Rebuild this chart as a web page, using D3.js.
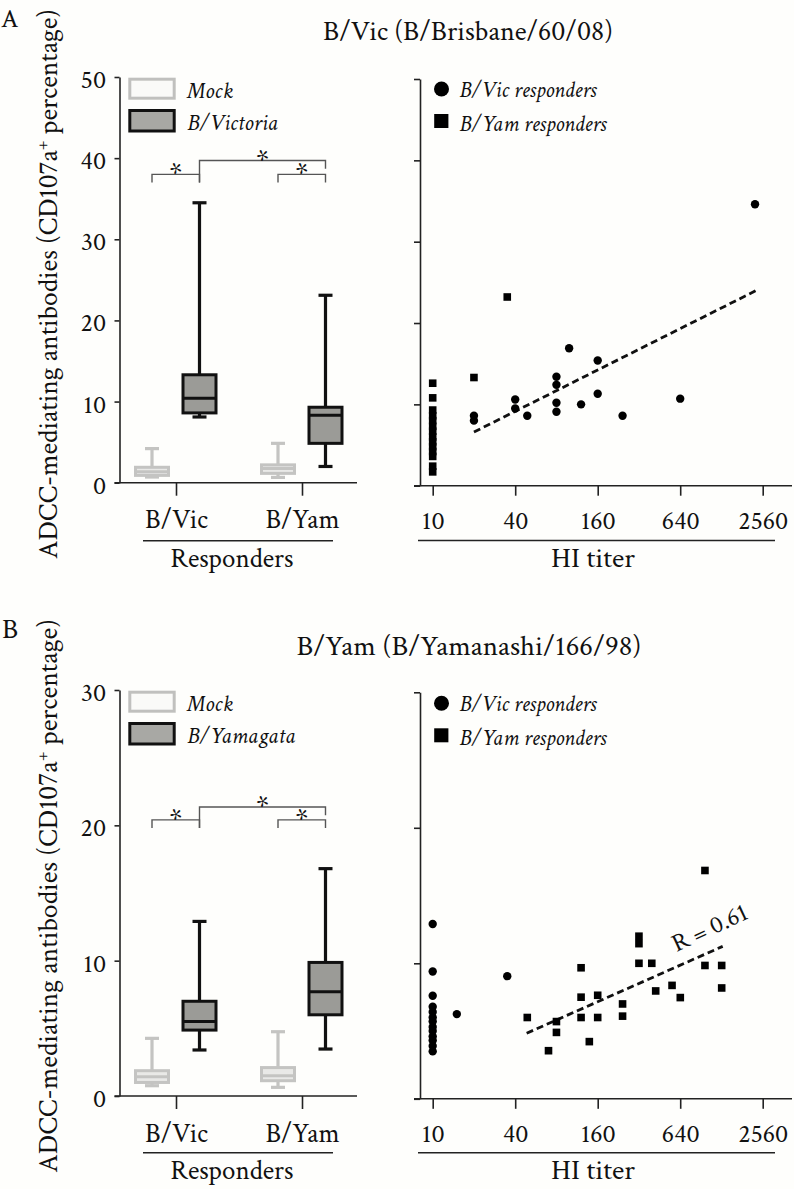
<!DOCTYPE html>
<html>
<head>
<meta charset="utf-8">
<script src="https://cdn.jsdelivr.net/npm/d3@7/dist/d3.min.js"></script>
<style>
  html, body { margin:0; padding:0; background:#fefefc; }
  svg { display:block; background:#fefefc; }
  text { font-family: "Crimson Text", "EB Garamond", "Liberation Serif", serif; fill:#111; }
</style>
</head>
<body>
<svg id="chart" width="794" height="1189"></svg>
<script>
// ---------------- data ----------------
const groups = ["B/Vic", "B/Yam"];
const stimA = ["Mock", "B/Victoria"];
const stimB = ["Mock", "B/Yamagata"];
const scatterSeries = ["B/Vic responders", "B/Yam responders"];

// box statistics per responder group: [min, q1, median, q3, max]
const aMockStats  = [[0.7, 0.9, 1.35, 1.9, 4.2], [0.65, 1.15, 1.75, 2.2, 4.85]];
const aVirusStats = [[8.1, 8.6, 10.4, 13.3, 34.5], [2.0, 4.85, 8.3, 9.3, 23.1]];
const bMockStats  = [[0.76, 1.0, 1.43, 1.87, 4.26], [0.64, 1.13, 1.5, 2.1, 4.75]];
const bVirusStats = [[3.4, 4.87, 5.5, 7.0, 12.9], [3.47, 6.0, 7.7, 9.87, 16.8]];

const aYTicks = [0, 10, 20, 30, 40, 50];
const bYTicks = [0, 10, 20, 30];
const titerTicks = [10, 40, 160, 640, 2560];

// significance brackets: [[groupIdx, stimIdx] left, [groupIdx, stimIdx] right]
const bracketPairs = [[[0, 0], [0, 1]], [[0, 1], [1, 1]], [[1, 0], [1, 1]]];
const aBracketLevels = [38.0, 39.7, 38.0];
const bBracketLevels = [20.4, 21.35, 20.4];
const bracketLabels = ["*", "*", "*"];

// scatter A: B/Vic (B/Brisbane/60/08)
const aVicTiter = [20, 20, 40, 40, 49, 80, 80, 80, 80, 99, 121, 160, 160, 243, 640, 2250];
const aVicValue = [8.6, 8.0, 10.6, 9.5, 8.6, 13.4, 12.4, 10.2, 9.1, 16.9, 10.0, 15.4, 11.3, 8.6, 10.7, 34.6];
const aYamTiter = [10, 10, 10, 10, 10, 10, 10, 10, 10, 10, 10, 10, 10, 10, 20, 35];
const aYamValue = [12.6, 10.8, 9.3, 8.6, 8.0, 7.3, 6.7, 6.0, 5.4, 4.8, 4.2, 3.6, 2.4, 1.7, 13.3, 23.2];
const aFitTiter = [20, 2300];
const aFitValue = [6.6, 24.0];

// scatter B: B/Yam (B/Yamanashi/166/98)
const bVicTiter = [10, 10, 10, 10, 10, 10, 10, 10, 10, 10, 10, 10, 10, 15, 35];
const bVicValue = [12.9, 9.4, 7.6, 6.8, 6.4, 6.0, 5.7, 5.3, 5.0, 4.6, 4.3, 3.9, 3.5, 6.25, 9.05];
const bYamTiter = [49, 70, 80, 80, 121, 121, 121, 139, 160, 160, 243, 243, 320, 320, 320, 397, 424, 558, 641, 970, 970, 1285, 1285];
const bYamValue = [6.0, 3.55, 5.7, 4.9, 9.67, 7.5, 6.0, 4.22, 7.64, 6.0, 7.0, 6.1, 12.0, 11.45, 10.0, 10.0, 7.96, 8.37, 7.47, 16.85, 9.84, 9.84, 8.18];
const bFitTiter = [48.5, 1307];
const bFitValue = [4.84, 11.25];
const bCorrLabel = "R = 0.61";

// ---------------- drawing ----------------
const svg = d3.select("#chart");
const AX = "#222";
const FONT = '"Crimson Text","EB Garamond","Liberation Serif",serif';

function styleAxis(sel, size) {
  sel.attr("font-family", FONT);
  sel.selectAll(".domain").attr("stroke", AX).attr("stroke-width", 1.6);
  sel.selectAll(".tick line").attr("stroke", AX).attr("stroke-width", 1.6);
  sel.selectAll(".tick text").attr("font-size", size).attr("fill", "#111");
}

function stretchedText(parent, str, cx, y, width, size) {
  const t = parent.append("text").text(str).attr("font-size", size).attr("text-anchor", "middle");
  const n = t.node().getComputedTextLength();
  const s = width / n;
  t.attr("transform", `translate(${cx},${y}) scale(${s},1)`);
  return t;
}

function drawBox(cfg) {
  const g = svg.append("g");
  const y = d3.scaleLinear().domain([0, cfg.ymax]).range([cfg.y0, cfg.y1]);
  const x = d3.scalePoint().domain(groups).range([176, 302]);
  const sub = d3.scalePoint().domain(cfg.stim).range([-24, 23.5]);
  const px = (gi, si) => x(groups[gi]) + sub(cfg.stim[si]);

  // y axis
  const ya = g.append("g").attr("transform", "translate(119.5,0)")
    .call(d3.axisLeft(y).tickValues(cfg.ticks).tickSize(5).tickSizeOuter(0).tickFormat(d3.format("d")));
  styleAxis(ya, 26);
  ya.selectAll(".tick text").attr("x", -13.5).attr("dy", null).attr("y", 10.5);

  // x axis
  g.append("line").attr("x1", 114.5).attr("x2", 357).attr("y1", cfg.y0).attr("y2", cfg.y0)
    .attr("stroke", AX).attr("stroke-width", 1.6);
  const xa = g.append("g").attr("transform", `translate(0,${cfg.y0})`)
    .call(d3.axisBottom(x).tickSize(13).tickSizeOuter(0));
  xa.select(".domain").remove();
  styleAxis(xa, 27);
  xa.selectAll(".tick text").attr("dy", null).attr("y", 45.5);

  // boxes
  const series = [
    { stats: cfg.mock, si: 0, stroke: "#c4c4c2", fill: "#e9e9e7", med: "#c4c4c2" },
    { stats: cfg.virus, si: 1, stroke: "#111", fill: "#9b9b97", med: "#111" }
  ];
  const bw = 33, cap = 14;
  series.forEach(s => {
    const items = s.stats.map((st, gi) => ({ st, cx: px(gi, s.si) }));
    const sel = g.append("g").selectAll("g.box").data(items).join("g").attr("class", "box");
    sel.append("line").attr("x1", d => d.cx).attr("x2", d => d.cx)
      .attr("y1", d => y(d.st[0])).attr("y2", d => y(d.st[4]))
      .attr("stroke", s.stroke).attr("stroke-width", 3.2);
    [4, 0].forEach(k => {
      sel.append("line").attr("x1", d => d.cx - cap / 2).attr("x2", d => d.cx + cap / 2)
        .attr("y1", d => y(d.st[k])).attr("y2", d => y(d.st[k]))
        .attr("stroke", s.stroke).attr("stroke-width", 3.2);
    });
    sel.append("rect").attr("x", d => d.cx - bw / 2).attr("width", bw)
      .attr("y", d => y(d.st[3])).attr("height", d => y(d.st[1]) - y(d.st[3]))
      .attr("fill", s.fill).attr("stroke", s.stroke).attr("stroke-width", 3);
    sel.append("line").attr("x1", d => d.cx - bw / 2).attr("x2", d => d.cx + bw / 2)
      .attr("y1", d => y(d.st[2])).attr("y2", d => y(d.st[2]))
      .attr("stroke", s.med).attr("stroke-width", 3);
  });

  // significance brackets
  const minLevel = d3.min(cfg.levels);
  bracketPairs.forEach((p, i) => {
    const lx = px(p[0][0], p[0][1]), rx = px(p[1][0], p[1][1]);
    const L = cfg.levels[i];
    const lb = (L > minLevel) ? minLevel - cfg.drop : L - cfg.drop;
    const rb = L - cfg.drop;
    g.append("path")
      .attr("d", `M${lx},${y(lb)}V${y(L)}H${rx}V${y(rb)}`)
      .attr("fill", "none").attr("stroke", "#555").attr("stroke-width", 1.4);
    g.append("text").text(bracketLabels[i]).attr("x", (lx + rx) / 2).attr("y", y(L) + 9)
      .attr("text-anchor", "middle").attr("font-size", 30);
  });

  // legend
  const lt = cfg.y1;
  g.append("rect").attr("x", 129.8).attr("y", lt + 2.2).attr("width", 44.4).attr("height", 19)
    .attr("fill", "#fafaf8").attr("stroke", "#c0c0be").attr("stroke-width", 3);
  g.append("rect").attr("x", 129.8).attr("y", lt + 33.5).attr("width", 44.4).attr("height", 20.5)
    .attr("fill", "#a8a8a4").attr("stroke", "#111").attr("stroke-width", 3);
  g.append("text").text(cfg.stim[0]).attr("x", 187).attr("y", lt + 20.5)
    .attr("font-size", 23).attr("font-style", "italic");
  g.append("text").text(cfg.stim[1]).attr("x", 187).attr("y", lt + 52.5)
    .attr("font-size", 23).attr("font-style", "italic");

  // Responders label
  g.append("line").attr("x1", 143).attr("x2", 333).attr("y1", cfg.under).attr("y2", cfg.under)
    .attr("stroke", AX).attr("stroke-width", 1.6);
  stretchedText(g, "Responders", 232, cfg.under + 26.5, 123, 27);
}

function drawScatter(cfg) {
  const g = svg.append("g");
  const x = d3.scaleLog().base(2).domain([10, 2560]).range([432.7, 762.7]);
  const y = d3.scaleLinear().domain([0, cfg.ymax]).range([cfg.y0, cfg.y1]);

  const ya = g.append("g").attr("transform", "translate(420,0)")
    .call(d3.axisLeft(y).tickValues(cfg.ticks).tickSize(6).tickSizeOuter(0).tickFormat(""));
  styleAxis(ya, 26);

  g.append("line").attr("x1", 414).attr("x2", 792).attr("y1", cfg.y0).attr("y2", cfg.y0)
    .attr("stroke", AX).attr("stroke-width", 1.6);
  const xa = g.append("g").attr("transform", `translate(0,${cfg.y0})`)
    .call(d3.axisBottom(x).tickValues(titerTicks).tickSize(10).tickFormat(d3.format("d")));
  xa.select(".domain").remove();
  styleAxis(xa, 26);
  xa.selectAll(".tick text").attr("dy", null).attr("y", 43);

  // fit line
  const fit = cfg.fitT.map((t, i) => [t, cfg.fitV[i]]);
  g.append("path").attr("d", d3.line().x(d => x(d[0])).y(d => y(d[1]))(fit))
    .attr("fill", "none").attr("stroke", "#111").attr("stroke-width", 2.8)
    .attr("stroke-dasharray", "7,4");

  // points
  const vic = cfg.vicT.map((t, i) => [t, cfg.vicV[i]]);
  const yam = cfg.yamT.map((t, i) => [t, cfg.yamV[i]]);
  g.selectAll("circle.pt").data(vic).join("circle").attr("class", "pt")
    .attr("cx", d => x(d[0])).attr("cy", d => y(d[1])).attr("r", 4.2).attr("fill", "#000");
  const sq = 7.6;
  g.selectAll("rect.pt").data(yam).join("rect").attr("class", "pt")
    .attr("x", d => x(d[0]) - sq / 2).attr("y", d => y(d[1]) - sq / 2)
    .attr("width", sq).attr("height", sq).attr("fill", "#000");

  if (cfg.corr) {
    g.append("text").text(cfg.corr).attr("font-size", 25).attr("text-anchor", "middle")
      .attr("dominant-baseline", "central")
      .attr("transform", `translate(${x(cfg.corrAt[0])},${y(cfg.corrAt[1])}) rotate(-25)`);
  }

  // legend
  const ly = cfg.legY;
  g.append("circle").attr("cx", 441.5).attr("cy", ly).attr("r", 7.5).attr("fill", "#000");
  g.append("rect").attr("x", 434.2).attr("y", ly + 25).attr("width", 14.2).attr("height", 14)
    .attr("fill", "#000");
  g.append("text").text(scatterSeries[0]).attr("x", 459.3).attr("y", ly + 7.6)
    .attr("font-size", 22.5).attr("font-style", "italic");
  g.append("text").text(scatterSeries[1]).attr("x", 459.3).attr("y", ly + 41.5)
    .attr("font-size", 22.5).attr("font-style", "italic");

  g.append("line").attr("x1", 418).attr("x2", 775).attr("y1", cfg.under).attr("y2", cfg.under)
    .attr("stroke", AX).attr("stroke-width", 1.6);
  stretchedText(g, "HI titer", 593, cfg.under + 26.5, 84, 27);
}

function drawYLabel(cy, len) {
  const g = svg.append("g").attr("transform", `translate(57,${cy}) rotate(-90)`);
  const t = g.append("text").attr("text-anchor", "middle").attr("font-size", 27);
  t.append("tspan").text("ADCC-mediating antibodies (CD107a");
  t.append("tspan").text("+").attr("font-size", 17).attr("dy", -10);
  t.append("tspan").text(" percentage)").attr("font-size", 27).attr("dy", 10);
  const n = t.node().getComputedTextLength();
  t.attr("transform", `scale(${len / n},1)`);
}

// Panel A
svg.append("text").text("A").attr("x", 1).attr("y", 26.5).attr("font-size", 26);
stretchedText(svg, "B/Vic (B/Brisbane/60/08)", 468, 40, 290, 27);
drawYLabel(284, 550);
drawBox({ ymax: 50, y0: 482.7, y1: 77, ticks: aYTicks, stim: stimA,
  mock: aMockStats, virus: aVirusStats, levels: aBracketLevels, drop: 1.0, under: 540.7 });
drawScatter({ ymax: 50, y0: 485.7, y1: 79, ticks: aYTicks,
  vicT: aVicTiter, vicV: aVicValue, yamT: aYamTiter, yamV: aYamValue,
  fitT: aFitTiter, fitV: aFitValue, legY: 89, under: 540.5 });

// Panel B
svg.append("text").text("B").attr("x", 2).attr("y", 638).attr("font-size", 28);
stretchedText(svg, "B/Yam (B/Yamanashi/166/98)", 469, 655, 345, 27);
drawYLabel(896, 554);
drawBox({ ymax: 30, y0: 1096, y1: 690, ticks: bYTicks, stim: stimB,
  mock: bMockStats, virus: bVirusStats, levels: bBracketLevels, drop: 0.6, under: 1152.7 });
drawScatter({ ymax: 30, y0: 1098.8, y1: 692.3, ticks: bYTicks,
  vicT: bVicTiter, vicV: bVicValue, yamT: bYamTiter, yamV: bYamValue,
  fitT: bFitTiter, fitV: bFitValue, corr: bCorrLabel, corrAt: [1055, 12.6],
  legY: 703.3, under: 1152.7 });
</script>
</body>
</html>
